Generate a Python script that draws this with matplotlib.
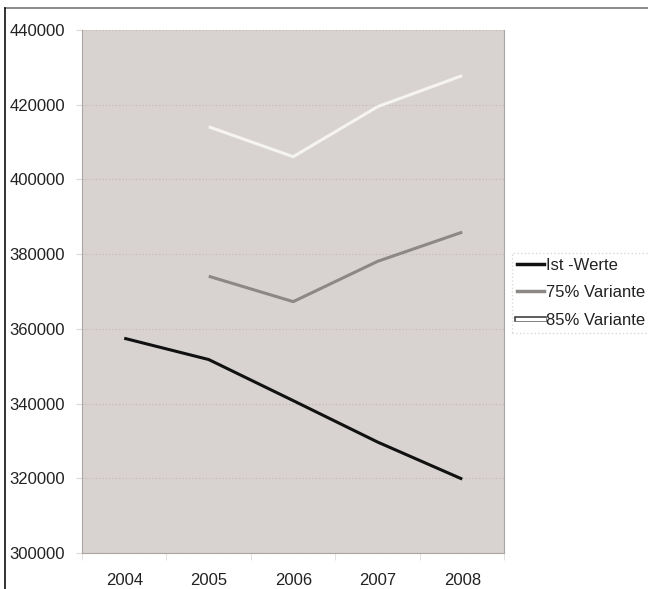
import matplotlib.pyplot as plt
import matplotlib.patheffects as pe
from matplotlib.lines import Line2D

plt.rcParams['font.family'] = ['Liberation Sans', 'DejaVu Sans']

jahre = ['2004', '2005', '2006', '2007', '2008']
ist_werte = [357500, 351800, 340800, 329700, 319800]
variante_75 = [None, 374100, 367300, 378100, 385900]
variante_85 = [None, 414100, 406100, 419500, 427800]
y_ticks = [300000, 320000, 340000, 360000, 380000, 400000, 420000, 440000]

fig = plt.figure(figsize=(6.48, 5.89), dpi=100)
ax = fig.add_axes([0.1265, 0.061, 0.652, 0.888])
ax.set_facecolor('#d8d3d0')

x = list(range(len(jahre)))
x75 = [i for i, v in zip(x, variante_75) if v is not None]
v75 = [v for v in variante_75 if v is not None]
x85 = [i for i, v in zip(x, variante_85) if v is not None]
v85 = [v for v in variante_85 if v is not None]

ax.plot(x, ist_werte, color='#111111', lw=2.2, solid_capstyle='butt')
ax.plot(x75, v75, color='#8c8886', lw=2.2, solid_capstyle='butt')
ax.plot(x85, v85, color='#f6f4f2', lw=2.2, solid_capstyle='butt')

ax.set_ylim(300000, 440000)
ax.set_yticks(y_ticks)
ax.set_xlim(-0.5, len(jahre) - 0.5)
ax.set_xticks(x)
ax.set_xticklabels(jahre)
ax.set_xticks([i - 0.5 for i in range(len(jahre) + 1)], minor=True)
ax.tick_params(axis='x', which='major', length=0, pad=14)
ax.tick_params(axis='x', which='minor', length=5, color='#dedad8')
ax.tick_params(axis='y', length=4, color='#dedad8', pad=8)
ax.tick_params(labelsize=12, labelcolor='#222222')

ax.grid(axis='y', color='#c2b6b2', linestyle=(0, (1, 2)), lw=0.8)
ax.set_axisbelow(True)
for side in ['left', 'bottom', 'right']:
    ax.spines[side].set_color('#aaa6a4')
ax.spines['top'].set_visible(False)

handles = [
    Line2D([], [], color='#111111', lw=2.5),
    Line2D([], [], color='#8c8886', lw=2.5),
    Line2D([], [], color='white', lw=2.5,
           path_effects=[pe.Stroke(linewidth=4, foreground='#333333'), pe.Normal()]),
]
leg = fig.legend(handles, ['Ist -Werte', '75% Variante', '85% Variante'],
                 loc='center left', bbox_to_anchor=(0.778, 0.503),
                 fontsize=12, handlelength=1.6, handletextpad=0.1,
                 labelspacing=0.75, borderpad=0.3, fancybox=False,
                 frameon=True)
leg.get_frame().set_edgecolor('#d0d0d0')
leg.get_frame().set_linestyle(':')
for t in leg.get_texts():
    t.set_color('#222222')

# Rahmen oben und links
fig.add_artist(Line2D([0.008, 1.0], [0.986, 0.986], color='#777777', lw=1.2))
fig.add_artist(Line2D([0.008, 0.008], [0.0, 0.986], color='#111111', lw=1.2))

fig.savefig('out.png', dpi=100)
